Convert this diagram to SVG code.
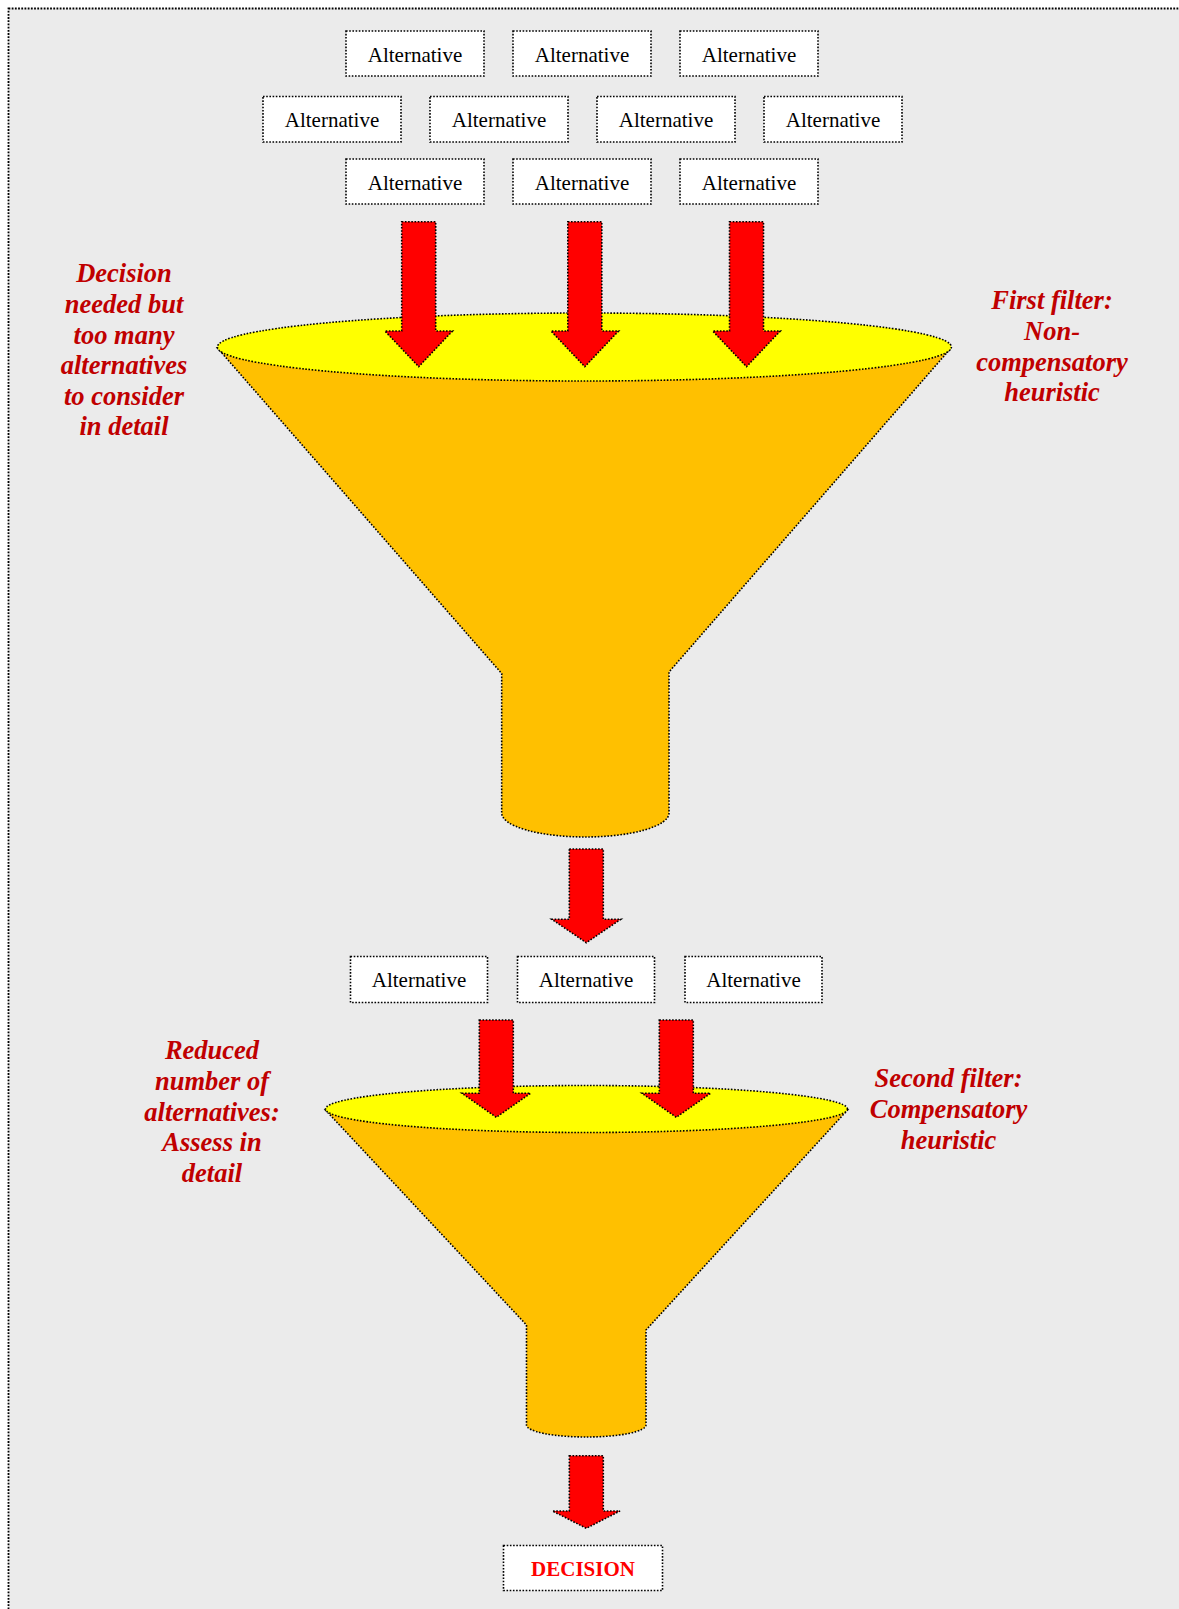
<svg xmlns="http://www.w3.org/2000/svg" width="1179" height="1609" viewBox="0 0 1179 1609">
  <style>
    .dot { stroke: #000; stroke-width: 1.6; stroke-dasharray: 1.6 1.6; }
    .alt rect { fill: #fff; }
    .alt text { font-family: "Liberation Serif", "Times New Roman", serif; font-size: 21px; fill: #000; text-anchor: middle; }
    .note { font-family: "Liberation Serif", "Times New Roman", serif; font-size: 26.5px; font-weight: bold; font-style: italic; fill: #c00000; text-anchor: middle; }
    .cone { fill: #ffc000; }
    .rim { fill: #ffff00; }
    .arrow { fill: #ff0000; }
  </style>

  <!-- page and frame -->
  <rect x="0" y="0" width="1179" height="1609" fill="#fff"/>
  <rect x="8.5" y="8.5" width="1190" height="1620" fill="#ebebeb" class="dot" style="stroke-width:1.8;stroke-dasharray:1.8 1.4"/>

  <!-- first funnel -->
  <g id="funnel1">
    <path class="cone dot" d="M217.5,348 L501.7,673.5 L501.7,813 A83.65,24 0 0 0 669,813 L669,672 L951,348 Z"/>
    <ellipse class="rim dot" cx="584.4" cy="347" rx="367" ry="34"/>
  </g>

  <!-- second funnel -->
  <g id="funnel2">
    <path class="cone dot" d="M325.5,1110 L526.5,1325 L526.5,1425 A59.75,12 0 0 0 646,1425 L646,1330 L847.5,1110 Z"/>
    <ellipse class="rim dot" cx="586.5" cy="1109" rx="261" ry="23.5"/>
  </g>

  <!-- full set of alternatives -->
  <g id="alt-r1-1" class="alt"><rect class="dot" x="346" y="31" width="138" height="45"/><text x="415" y="61.5">Alternative</text></g>
  <g id="alt-r1-2" class="alt"><rect class="dot" x="513" y="31" width="138" height="45"/><text x="582" y="61.5">Alternative</text></g>
  <g id="alt-r1-3" class="alt"><rect class="dot" x="680" y="31" width="138" height="45"/><text x="749" y="61.5">Alternative</text></g>

  <g id="alt-r2-1" class="alt"><rect class="dot" x="263" y="96.5" width="138" height="45.5"/><text x="332" y="127">Alternative</text></g>
  <g id="alt-r2-2" class="alt"><rect class="dot" x="430" y="96.5" width="138" height="45.5"/><text x="499" y="127">Alternative</text></g>
  <g id="alt-r2-3" class="alt"><rect class="dot" x="597" y="96.5" width="138" height="45.5"/><text x="666" y="127">Alternative</text></g>
  <g id="alt-r2-4" class="alt"><rect class="dot" x="764" y="96.5" width="138" height="45.5"/><text x="833" y="127">Alternative</text></g>

  <g id="alt-r3-1" class="alt"><rect class="dot" x="346" y="159" width="138" height="45"/><text x="415" y="189.5">Alternative</text></g>
  <g id="alt-r3-2" class="alt"><rect class="dot" x="513" y="159" width="138" height="45"/><text x="582" y="189.5">Alternative</text></g>
  <g id="alt-r3-3" class="alt"><rect class="dot" x="680" y="159" width="138" height="45"/><text x="749" y="189.5">Alternative</text></g>

  <!-- reduced set -->
  <g id="alt-m-1" class="alt"><rect class="dot" x="350.5" y="956.5" width="137" height="46"/><text x="419" y="986.7">Alternative</text></g>
  <g id="alt-m-2" class="alt"><rect class="dot" x="517.5" y="956.5" width="137" height="46"/><text x="586" y="986.7">Alternative</text></g>
  <g id="alt-m-3" class="alt"><rect class="dot" x="685" y="956.5" width="137" height="46"/><text x="753.5" y="986.7">Alternative</text></g>

  <!-- outcome -->
  <g id="decision">
    <rect class="dot" x="503.5" y="1545.5" width="159" height="45" fill="#fff"/>
    <text x="583" y="1576" font-family="'Liberation Serif', 'Times New Roman', serif" font-size="21" font-weight="bold" fill="#ff0000" text-anchor="middle">DECISION</text>
  </g>

  <!-- side notes -->
  <g id="note-problem">
    <text class="note"><tspan x="124" y="282.3">Decision</tspan><tspan x="124" y="312.9">needed but</tspan><tspan x="124" y="343.5">too many</tspan><tspan x="124" y="374.1">alternatives</tspan><tspan x="124" y="404.7">to consider</tspan><tspan x="124" y="435.3">in detail</tspan></text>
  </g>
  <g id="note-filter1">
    <text class="note"><tspan x="1052" y="309.3">First filter:</tspan><tspan x="1052" y="340">Non-</tspan><tspan x="1052" y="370.7">compensatory</tspan><tspan x="1052" y="401.4">heuristic</tspan></text>
  </g>
  <g id="note-reduced">
    <text class="note"><tspan x="212" y="1059.3">Reduced</tspan><tspan x="212" y="1090">number of</tspan><tspan x="212" y="1120.6">alternatives:</tspan><tspan x="212" y="1151.2">Assess in</tspan><tspan x="212" y="1181.8">detail</tspan></text>
  </g>
  <g id="note-filter2">
    <text class="note"><tspan x="948.5" y="1087.3">Second filter:</tspan><tspan x="948.5" y="1118">Compensatory</tspan><tspan x="948.5" y="1148.6">heuristic</tspan></text>
  </g>

  <!-- block arrows -->
  <g id="connectors">
    <path class="arrow dot" d="M401.7,221.7 H435.7 V331 H452.5 L418.7,366.7 L384.9,331 H401.7 Z"/>
    <path class="arrow dot" d="M567.8,221.7 H601.8 V331 H618.6 L584.8,366.7 L551,331 H567.8 Z"/>
    <path class="arrow dot" d="M729.5,221.7 H763.5 V331 H780.3 L746.5,366.7 L712.7,331 H729.5 Z"/>
    <path class="arrow dot" d="M569.3,849 H603.3 V919.3 H620.8 L586.3,942.7 L551.8,919.3 H569.3 Z"/>
    <path class="arrow dot" d="M479.3,1020 H513.3 V1093.3 H530.5 L496.3,1117.3 L462,1093.3 H479.3 Z"/>
    <path class="arrow dot" d="M659.3,1020 H693.3 V1093.3 H710.5 L676.3,1117.3 L642,1093.3 H659.3 Z"/>
    <path class="arrow dot" d="M569.3,1455.7 H603.3 V1511 H620 L586.3,1528.3 L552.5,1511 H569.3 Z"/>
  </g>
</svg>
